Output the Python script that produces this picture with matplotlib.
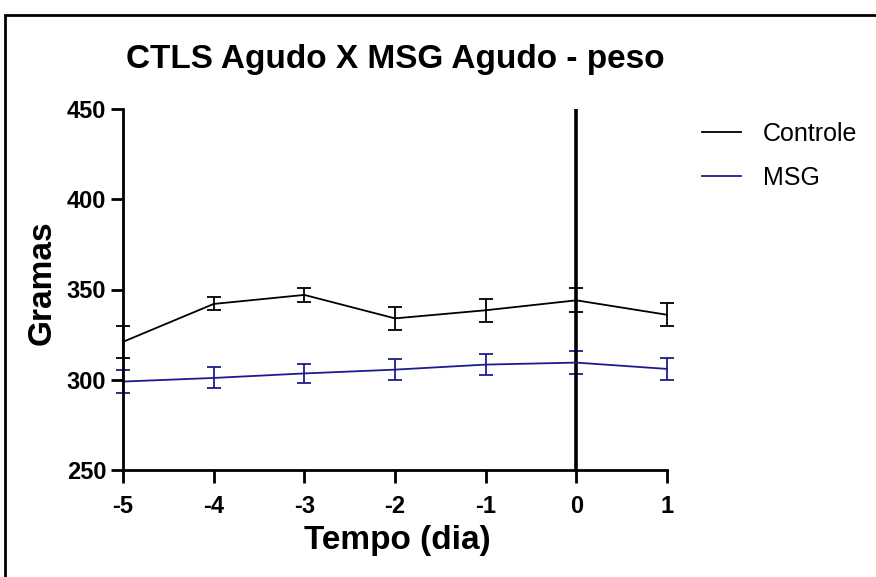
import matplotlib
matplotlib.use("Agg")
import matplotlib.pyplot as plt
from matplotlib.patches import Rectangle
from matplotlib.lines import Line2D

days = [-5, -4, -3, -2, -1, 0, 1]
controle_mean = [321, 342, 347, 334, 338.5, 344, 336]
controle_err = [9, 3.6, 3.9, 6.3, 6.3, 6.6, 6.3]
msg_mean = [299, 301, 303.5, 305.6, 308.4, 309.5, 306]
msg_err = [6.3, 5.8, 5.5, 6, 6, 6.3, 6]
xticks = [-5, -4, -3, -2, -1, 0, 1]
yticks = [250, 300, 350, 400, 450]

plt.rcParams['font.family'] = ['Liberation Sans', 'DejaVu Sans']
W, H = 876, 577
fig = plt.figure(figsize=(W / 100, H / 100), dpi=100)
left, right, top, bottom = 123, 667, 109, 470
ax = fig.add_axes([left / W, 1 - bottom / H, (right - left) / W, (bottom - top) / H])

navy = '#1c1c8c'
ax.errorbar(days, controle_mean, yerr=controle_err, color='black', lw=1.3,
            capsize=5, capthick=1.3, elinewidth=1.3, clip_on=False)
ax.errorbar(days, msg_mean, yerr=msg_err, color=navy, lw=1.3,
            capsize=5, capthick=1.3, elinewidth=1.3, clip_on=False)
ax.axvline(0, color='black', lw=2.6)

ax.set_xlim(-5, 1)
ax.set_ylim(250, 450)
ax.set_xticks(xticks)
ax.set_yticks(yticks)
ax.set_xticklabels([str(t) for t in xticks], fontsize=17, fontweight='bold')
ax.set_yticklabels([str(t) for t in yticks], fontsize=17, fontweight='bold')
ax.tick_params(direction='out', length=9, width=2)
ax.tick_params(axis='x', pad=9)
ax.tick_params(axis='y', pad=3)
for s in ['top', 'right']:
    ax.spines[s].set_visible(False)
for s in ['left', 'bottom']:
    ax.spines[s].set_linewidth(2)

fig.text(397 / W, 1 - 540 / H, 'Tempo (dia)', fontsize=24, fontweight='bold',
         ha='center', va='center')
fig.text(42 / W, 1 - 283 / H, 'Gramas', fontsize=24, fontweight='bold',
         ha='center', va='center', rotation=90)
fig.text(395 / W, 1 - 68 / H, 'CTLS Agudo X MSG Agudo - peso', fontsize=24,
         fontweight='bold', ha='center', va='baseline')

hl = [Line2D([0], [0], color='black', lw=1.3), Line2D([0], [0], color=navy, lw=1.3)]
ax.legend(hl, ['Controle', 'MSG'], loc='upper left', bbox_to_anchor=(702 / W, 1 - 122 / H),
          bbox_transform=fig.transFigure, frameon=False, fontsize=18, handlelength=1.55,
          handletextpad=0.9, labelspacing=0.8, borderaxespad=0, borderpad=0)

fig.patches.append(Rectangle((5 / W, -0.1), 1.2, 1 - 15 / H + 0.1, transform=fig.transFigure,
                             fill=False, edgecolor='black', lw=2))

fig.savefig('out.png', dpi=100)
